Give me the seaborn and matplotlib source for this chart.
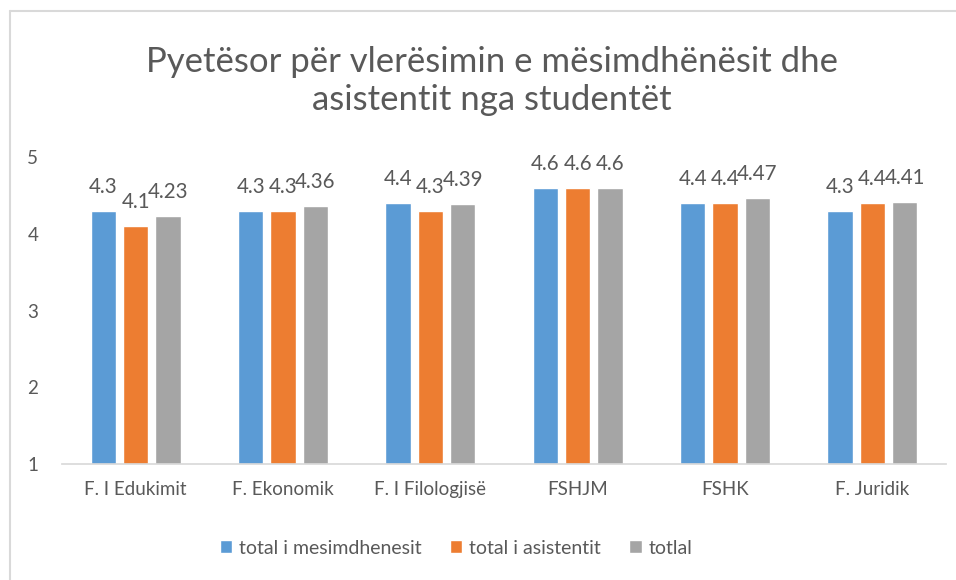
import pandas as pd
import matplotlib.pyplot as plt
import seaborn as sns
from matplotlib.lines import Line2D

sns.set_theme(style="white")
plt.rcParams['font.family'] = ['Lato', 'DejaVu Sans']

faculties = ["F. I Edukimit", "F. Ekonomik", "F. I Filologjisë", "FSHJM", "FSHK", "F. Juridik"]
series = ["total i mesimdhenesit", "total i asistentit", "totlal"]
mesimdhenesit = [4.3, 4.3, 4.4, 4.6, 4.4, 4.3]
asistentit = [4.1, 4.3, 4.3, 4.6, 4.4, 4.4]
totlal = [4.23, 4.36, 4.39, 4.6, 4.47, 4.41]
labels = [["4.3", "4.3", "4.4", "4.6", "4.4", "4.3"],
          ["4.1", "4.3", "4.3", "4.6", "4.4", "4.4"],
          ["4.23", "4.36", "4.39", "4.6", "4.47", "4.41"]]
colors = ["#5B9BD5", "#ED7D31", "#A5A5A5"]

df = pd.DataFrame({
    "faculty": faculties * 3,
    "series": [s for s in series for _ in faculties],
    "value": mesimdhenesit + asistentit + totlal,
})

text_col = "#595959"
fig, ax = plt.subplots(figsize=(9.56, 5.8), dpi=100)
fig.subplots_adjust(left=62/956, right=946/956, top=1-157/580, bottom=1-464/580)

sns.barplot(data=df, x="faculty", y="value", hue="series", palette=colors,
            width=0.66, gap=0.22, saturation=1, ax=ax)

# axis starts at 1, bars are clipped there
ax.set_ylim(1, 5)
for i, cont in enumerate(ax.containers):
    ax.bar_label(cont, labels=labels[i], padding=10, fontsize=14.8, color=text_col)

ax.set_yticks([1, 2, 3, 4, 5])
ax.tick_params(axis='y', labelsize=13.5, colors=text_col, length=0, pad=17)
ax.tick_params(axis='x', labelsize=13.5, colors=text_col, length=0, pad=12)
ax.set_xlabel("")
ax.set_ylabel("")
for s in ["top", "right", "left"]:
    ax.spines[s].set_visible(False)
ax.spines["bottom"].set_color("#D9D9D9")

fig.text(492/956, 1-81/580, "Pyetësor për vlerësimin e mësimdhënësit dhe\nasistentit nga studentët",
         fontsize=25, color=text_col, ha="center", va="center", linespacing=1.25)

ax.get_legend().remove()
handles, names = ax.get_legend_handles_labels()
fig.legend(handles, names, loc="center", bbox_to_anchor=(456/956, 1-548/580), ncol=3,
           frameon=False, fontsize=14, labelcolor=text_col, handlelength=0.65,
           handleheight=0.65, columnspacing=1.45, handletextpad=0.35)

# chart border (only left and top edges are inside the picture)
fig.add_artist(Line2D([10/956, 10/956], [0, 1-11/580], transform=fig.transFigure,
                      color="#D9D9D9", linewidth=1.5))
fig.add_artist(Line2D([10/956, 1], [1-11/580, 1-11/580], transform=fig.transFigure,
                      color="#D9D9D9", linewidth=1.5))

plt.savefig("out.png", dpi=100)
